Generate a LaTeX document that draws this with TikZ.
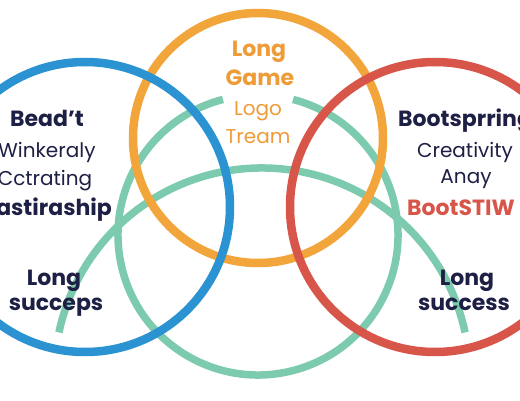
\documentclass[tikz,border=0pt]{standalone}
\usepackage{fontspec}
\setmainfont{Poppins}
\usetikzlibrary{calc}
\definecolor{navy}{HTML}{1D1F45}
\definecolor{vblue}{HTML}{2B93D1}
\definecolor{vorange}{HTML}{F2A53A}
\definecolor{vred}{HTML}{D8554A}
\definecolor{vgreen}{HTML}{7DCBAE}
\definecolor{torange}{HTML}{EE9B38}
\begin{document}
\begin{tikzpicture}[x=1pt,y=1pt,
  ring/.style={line width=8.5pt},
  gring/.style={line width=7.5pt, vgreen},
  lbl/.style={inner sep=0pt, font=\fontsize{20}{23}\selectfont},
  blbl/.style={lbl, font=\fontsize{22}{25}\selectfont\bfseries},
]
\useasboundingbox[fill=white] (0,0) rectangle (520,400);
% circle centres
\coordinate (cb) at (85,193);
\coordinate (co) at (258,262);
\coordinate (cr) at (435,193);
\coordinate (cg) at (258,165);
\coordinate (ca) at (262,24.4);
% green arcs
\draw[gring] ($(cg)+(104.5:140)$) arc[start angle=104.5, end angle=435.5, radius=140];
\draw[gring] ($(ca)+(168:207.6)$) arc[start angle=168, end angle=12, radius=207.6];
% rings
\draw[ring, vorange] (co) circle[radius=125];
\draw[ring, vblue] (cb) circle[radius=145];
\draw[ring, vred] (cr) circle[radius=145];
% left texts
\node[blbl, navy, anchor=base] (l1) at (47,273) {Bead’t};
\node[lbl, navy, anchor=base] (l2) at (47,243) {Winkeraly};
\node[lbl, navy, anchor=base] (l3) at (45,215) {Cctrating};
\node[blbl, navy, anchor=base east] (l4) at (112,185) {astiraship};
\node[blbl, navy, anchor=base] (l5) at (54,115) {Long};
\node[blbl, navy, anchor=base] (l6) at (56,90) {succeps};
% centre texts
\node[blbl, torange, anchor=base] (c1) at (259,343) {Long};
\node[blbl, torange, anchor=base] (c2) at (260,315) {Game};
\node[lbl, torange, anchor=base] (c3) at (258,285) {Logo};
\node[lbl, torange, anchor=base] (c4) at (258,257) {Tream};
% right texts
\node[blbl, navy, anchor=base west] (r1) at (398,273) {Bootsprring};
\node[lbl, navy, anchor=base] (r2) at (465,243) {Creativity};
\node[lbl, navy, anchor=base] (r3) at (466,217) {Anay};
\node[blbl, vred, anchor=base west] (r4) at (407,185) {BootSTIW};
\node[blbl, navy, anchor=base] (r5) at (467,115) {Long};
\node[blbl, navy, anchor=base] (r6) at (464,90) {success};
\end{tikzpicture}
\end{document}
